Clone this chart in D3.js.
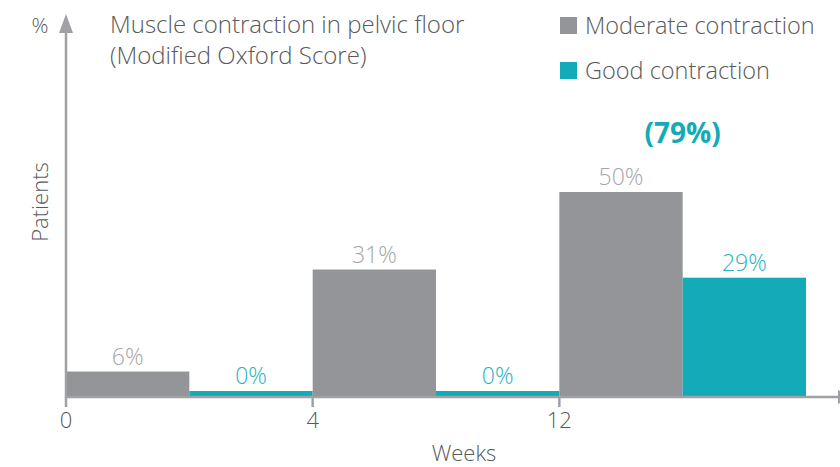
<!DOCTYPE html>
<html>
<head>
<meta charset="utf-8">
<script src="https://cdn.jsdelivr.net/npm/d3@7"></script>
<style>
  body { margin: 0; background: #fff; }
  text { font-family: 'Open Sans', Lato, sans-serif; }
</style>
</head>
<body>
<script>
// data
var weeks = ['0', '4', '12']
var moderate = [6, 31, 50]
var good = [0, 0, 29]
var seriesNames = ['Moderate contraction', 'Good contraction']
var colors = ['#939598', '#12abb7']

var width = 840, height = 467
var margin = { top: 30, right: 34, bottom: 71, left: 66 }

var svg = d3.select('body').append('svg')
    .attr('width', width)
    .attr('height', height)

// set ranges
var x = d3.scaleBand().domain(weeks).range([margin.left, width - margin.right]).paddingInner(0)
var half = d3.scaleBand().domain([0, 1]).range([0, x.bandwidth()])
var y = d3.scaleLinear().domain([0, 50]).range([396, 192])

var axisCol = '#a0a1a4'
var textCol = '#58595b'

// bars
var rows = []
weeks.forEach((w, i) => {
    rows.push({ week: w, s: 0, v: moderate[i] })
    rows.push({ week: w, s: 1, v: good[i] })
})

svg.selectAll('rect.bar')
    .data(rows)
    .enter().append('rect')
    .attr('class', 'bar')
    .attr('x', d => x(d.week) + half(d.s))
    .attr('width', half.bandwidth())
    .attr('y', d => d.v === 0 ? y(0) - 5 : y(d.v))
    .attr('height', d => d.v === 0 ? 5 : y(0) - y(d.v))
    .attr('fill', d => colors[d.s])

svg.selectAll('text.val')
    .data(rows)
    .enter().append('text')
    .attr('class', 'val')
    .attr('x', d => x(d.week) + half(d.s) + half.bandwidth() / 2)
    .attr('y', d => (d.v === 0 ? y(0) - 5 : y(d.v)) - 7)
    .attr('text-anchor', 'middle')
    .attr('font-size', 23)
    .attr('font-weight', 300)
    .attr('fill', d => d.s === 0 ? '#a5a6a9' : '#29b2bd')
    .text(d => d.v + '%')

// x-axis
var xAxis = svg.append('g')
    .attr('transform', 'translate(0,397)')
    .call(d3.axisBottom(x).tickSize(10).tickPadding(5))
xAxis.selectAll('.tick').attr('transform', d => 'translate(' + x(d) + ',0)')
xAxis.select('.domain').attr('d', 'M' + margin.left + ',0H' + width)
xAxis.selectAll('path, line').attr('stroke', axisCol).attr('stroke-width', 2.5)
xAxis.selectAll('text')
    .attr('font-size', 22)
    .attr('font-weight', 300)
    .attr('fill', textCol)
xAxis.append('path')
    .attr('d', 'M838,-7L852,0L838,7Z')
    .attr('fill', axisCol)

// y-axis with arrow
svg.append('line')
    .attr('x1', margin.left).attr('x2', margin.left)
    .attr('y1', 398).attr('y2', 28)
    .attr('stroke', axisCol).attr('stroke-width', 2.5)
svg.append('path')
    .attr('d', 'M' + (margin.left - 7) + ',33L' + margin.left + ',14L' + (margin.left + 7) + ',33Z')
    .attr('fill', axisCol)

svg.append('text')
    .attr('x', 40).attr('y', 33)
    .attr('text-anchor', 'middle')
    .attr('font-size', 21)
    .attr('font-weight', 300)
    .attr('fill', textCol)
    .text('%')

svg.append('text')
    .attr('transform', 'translate(48,202) rotate(-90)')
    .attr('text-anchor', 'middle')
    .attr('font-size', 22)
    .attr('font-weight', 300)
    .attr('fill', textCol)
    .text('Patients')

svg.append('text')
    .attr('x', 464).attr('y', 461)
    .attr('text-anchor', 'middle')
    .attr('font-size', 22)
    .attr('font-weight', 300)
    .attr('fill', textCol)
    .text('Weeks')

// title
var title = svg.append('text')
    .attr('x', 110).attr('y', 33)
    .attr('font-size', 24)
    .attr('font-weight', 300)
    .attr('fill', textCol)
title.append('tspan').attr('x', 110).text('Muscle contraction in pelvic floor')
title.append('tspan').attr('x', 110).attr('dy', 31).text('(Modified Oxford Score)')

// legend
var legend = svg.selectAll('g.legend')
    .data(seriesNames)
    .enter().append('g')
    .attr('class', 'legend')
    .attr('transform', (d, i) => 'translate(560,' + (17 + i * 45) + ')')
legend.append('rect')
    .attr('width', 17).attr('height', 17)
    .attr('fill', (d, i) => colors[i])
legend.append('text')
    .attr('x', 25).attr('y', 17)
    .attr('font-size', 23.5)
    .attr('font-weight', 300)
    .attr('fill', textCol)
    .text(d => d)

// total good contraction at 12 weeks
svg.append('text')
    .attr('x', x('12') + half(1))
    .attr('y', 143)
    .attr('text-anchor', 'middle')
    .attr('font-size', 28)
    .attr('font-weight', 'bold')
    .attr('fill', '#12abb7')
    .text('(' + (moderate[2] + good[2]) + '%)')
</script>
</body>
</html>
